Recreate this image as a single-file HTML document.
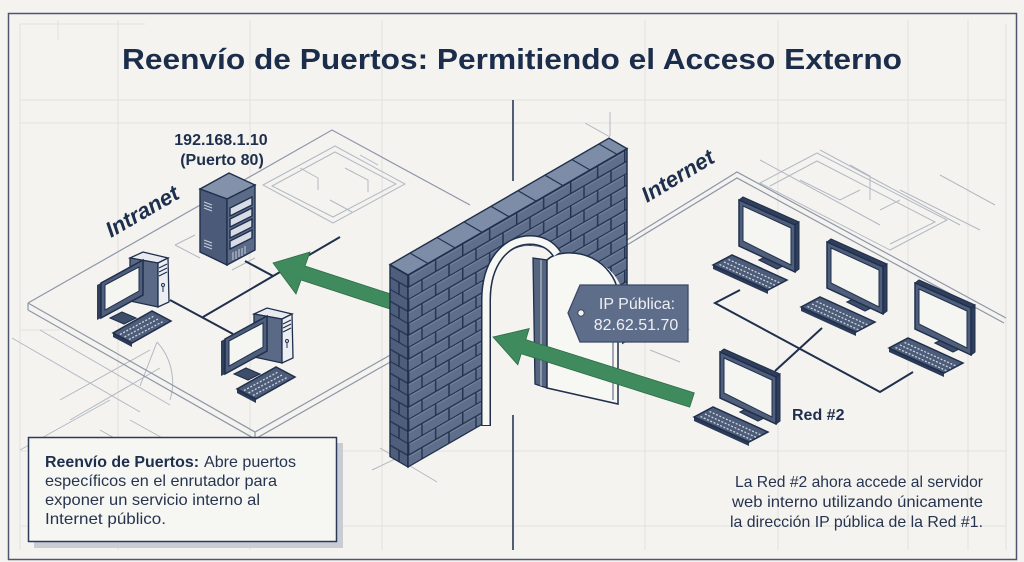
<!DOCTYPE html>
<html><head><meta charset="utf-8"><style>
html,body{margin:0;padding:0;background:#f4f3ef;}
svg{display:block;}
text{font-family:"Liberation Sans","DejaVu Sans",sans-serif;}
</style></head><body>
<svg width="1024" height="562" viewBox="0 0 1024 562" xmlns="http://www.w3.org/2000/svg">
<defs>
<pattern id="brick" width="54" height="24" patternUnits="userSpaceOnUse">
<rect width="54" height="24" fill="#5f6e8b"/>
<path d="M0 2.2H54 M0 14.2H54" stroke="#7f8da7" stroke-width="1.2" opacity="0.7"/>
<path d="M0 0.5H54 M0 12.5H54 M0.7 0V12.5 M27.7 0V12.5 M14 12.5V24 M41 12.5V24" stroke="#22324e" stroke-width="1.4"/>
</pattern>
<pattern id="brickEnd" width="18" height="24" patternUnits="userSpaceOnUse">
<rect width="18" height="24" fill="#4f5e7b"/>
<path d="M0 0.5H18 M0 12.5H18 M9 12.5V24" stroke="#22324e" stroke-width="1.4"/>
</pattern>
<g id="rpc">
<polygon points="20,60 32,54 50,63 38,69" fill="#3d4c68" stroke="#1f2f4c" stroke-width="1.2"/>
<polygon points="26,52 33,55 33,62 26,59" fill="#2f3e5a"/>
<polygon points="0,0 4,-3 60,22 56,25" fill="#2f3e5a" stroke="#1f2f4c" stroke-width="1"/>
<polygon points="56,25 60,22 60,69 56,72" fill="#2f3e5a" stroke="#1f2f4c" stroke-width="1"/>
<polygon points="0,0 56,25 56,72 0,46" fill="#4f5e7b" stroke="#1f2f4c" stroke-width="1.5"/>
<polygon points="4,6 52,28 52,65 4,41" fill="#f5f5f2" stroke="#1f2f4c" stroke-width="1"/>
<polygon points="-26,65 29,90 29,94 -26,69" fill="#2a3a58"/>
<polygon points="-26,65 -7,55 48,80 29,90" fill="#4d5c78" stroke="#1f2f4c" stroke-width="1.5"/>
<path d="M-19.5,64.5 L32,88 M-15,62 L36.5,85.5 M-10.5,59.5 L41,83" stroke="#cfd5df" stroke-width="1.3" stroke-dasharray="2 1.6"/>
</g>
<g id="lpc">
<polygon points="32,-25 45,-31 70,-25 60,-20" fill="#e9ebef" stroke="#1f2f4c" stroke-width="1.3"/>
<polygon points="32,-25 60,-20 60,24 32,18" fill="#5a6985" stroke="#1f2f4c" stroke-width="1.3"/>
<polygon points="60,-20 70,-25 71,19 60,24" fill="#eceef2" stroke="#1f2f4c" stroke-width="1.3"/>
<path d="M61,-15 L69,-19 M61,-11 L69,-15 M61,-7 L69,-11" stroke="#1f2f4c" stroke-width="1.2"/>
<circle cx="65" cy="2" r="1.5" fill="none" stroke="#1f2f4c"/>
<path d="M65,4 V9" stroke="#1f2f4c" stroke-width="1"/>
<polygon points="12,35 24,29 38,35 26,41" fill="#3d4c68" stroke="#1f2f4c" stroke-width="1.1"/>
<polygon points="-1,2 3,0 3,35 -1,37" fill="#2f3e5a"/>
<polygon points="3,0 45,-23 45,12 3,35" fill="#4f5e7b" stroke="#1f2f4c" stroke-width="1.5"/>
<polygon points="7,2 41,-16 41,8 7,27" fill="#f5f5f2" stroke="#1f2f4c" stroke-width="1"/>
<polygon points="15,50 34,60 34,64 15,54" fill="#2a3a58"/>
<polygon points="15,50 34,60 73,38 54,28" fill="#4d5c78" stroke="#1f2f4c" stroke-width="1.5"/>
<path d="M22,51.5 L56,33 M26.5,54 L61,35.5 M31,56.5 L66,38" stroke="#cfd5df" stroke-width="1.3" stroke-dasharray="2 1.6"/>
</g>
</defs>

<rect width="1024" height="562" fill="#f4f3ef"/>

<!-- grid -->
<g stroke="#e2e2dd" stroke-width="1" fill="none">
<path d="M20 24V550 M58 20V40 M118 20V550 M250 20V550 M382 20V550 M645 20V550 M778 20V550 M908 20V550 M968 20V550 M1006 24V550"/>
<path d="M20 24H145 M20 100H1006 M20 123H1006 M20 451H1006 M20 526H1006 M20 330H60"/>
</g>

<!-- frame -->
<rect x="8.5" y="13.5" width="1008" height="546" fill="none" stroke="#4b5770" stroke-width="1.5"/>

<!-- title -->
<text x="512" y="69" text-anchor="middle" font-size="29" font-weight="bold" fill="#1b2d4b" textLength="780" lengthAdjust="spacingAndGlyphs">Reenvío de Puertos: Permitiendo el Acceso Externo</text>

<!-- faint floor sketches -->
<g stroke="#b3b9c4" stroke-width="1" fill="none">
<path d="M12,338 L140,412 M40,330 L170,405 M60,400 L150,350 M70,420 L160,368 M140,386 L157,342 M157,342 A60,60 0 0 1 170,400"/>
<path d="M100,430 L180,475 M130,420 L220,470 M20,450 L110,400"/>
<polygon points="263,185 335,146 405,184 333,223"/>
<polygon points="272,186 335,152 396,184 333,217"/>
<path d="M300,168 L318,178 L318,190 M345,168 L368,180 L368,192 M330,200 L352,212 M360,155 L378,165"/>
<path d="M175,245 L200,258 M175,245 L195,235 M232,270 L255,258"/>
<path d="M760,183 L817,153 L947,220 L890,250 Z M770,186 L817,161 L935,222 L890,244 M800,180 L840,200 L860,190 M850,165 L870,176 L870,200 M880,210 L900,200"/>
<path d="M760,160 L880,225 M820,150 L960,225 M900,190 L980,230 M940,175 L995,205"/>
<path d="M380,448 L437,482 M372,470 L410,452 M585,123 L610,137 M610,112 V136 M640,300 L690,330 M650,350 L680,362"/>
</g>

<!-- left platform -->
<g stroke="#8e97a8" stroke-width="1.2" fill="none">
<path d="M28,303 L332,130 L470,205"/>
<path d="M28,303 L255,432 L392,354 M28,310 L255,439 L392,361 M28,303 V310 M255,432 V439"/>
</g>
<!-- right platform -->
<g stroke="#8e97a8" stroke-width="1.2" fill="none">
<path d="M627,240 L737,172 L1006,318 M627,245 L737,178 L1004,323 M600,256 L627,240"/>
</g>

<!-- divider -->
<path d="M513,100 V181 M513,415 V550" stroke="#2a3a58" stroke-width="1.6"/>

<!-- left network -->
<g stroke="#1f2f4c" stroke-width="2" fill="none">
<path d="M245,261 L273,276 M203,317 L340,237 M170,300 L233,334"/>
</g>
<!-- right network -->
<g stroke="#1f2f4c" stroke-width="2" fill="none">
<path d="M740,290 L715,303 L880,392 L913,372 M822,328 L775,371"/>
</g>

<!-- server -->
<g stroke="#1f2f4c" stroke-width="1.4">
<polygon points="200,189 229,173 255,185 227,199" fill="#8391aa"/>
<polygon points="200,189 227,199 227,265 200,252" fill="#4a5a78"/>
<polygon points="227,199 255,185 255,250 227,265" fill="#5b6a86"/>
<polygon points="230,208 252,197 252,205 230,216" fill="#d8dce4"/>
<polygon points="230,219 252,208 252,216 230,227" fill="#d8dce4"/>
<polygon points="230,230 252,219 252,227 230,238" fill="#d8dce4"/>
<polygon points="230,241 252,230 252,238 230,249" fill="#d8dce4"/>
</g>
<path d="M204,202 L212,205 M204,205 L212,208 M204,208 L212,211 M204,240 L212,243 M204,243 L212,246 M204,246 L212,249 M233,252 V260 M236,251 V259 M239,249 V257 M242,248 V256 M245,246 V254" stroke="#c9cfda" stroke-width="1"/>

<!-- left PCs -->
<use href="#lpc" transform="translate(98,283)"/>
<use href="#lpc" transform="translate(222,339)"/>

<!-- right PCs -->
<use href="#rpc" transform="translate(739,200)"/>
<use href="#rpc" transform="translate(827,242)"/>
<use href="#rpc" transform="translate(915,283)"/>
<use href="#rpc" transform="translate(720,352)"/>

<!-- arrow 1 (behind wall) -->
<polygon points="273,263 310,252 305,266 397,296 393,310 301,280 296,294" fill="#3f8b5d" stroke="#2d6b45" stroke-width="0.8"/>

<!-- wall -->
<g transform="matrix(1,0.577,0,1,390,264.6)">
<rect x="0" y="0" width="18" height="192" fill="url(#brickEnd)" stroke="#1f2f4c" stroke-width="1.4"/>
</g>
<g transform="matrix(1,-0.577,0,1,408,275)">
<rect x="0" y="0" width="219" height="192" fill="url(#brick)" stroke="#1f2f4c" stroke-width="1.5"/>
</g>
<polygon points="390,264.6 408,275 627,148.6 609,138.2" fill="#7e8da7" stroke="#1f2f4c" stroke-width="1.4"/>
<path d="M428,263.5 L410,253.1 M455,247.9 L437,237.5 M482,232.3 L464,221.9 M509,216.7 L491,206.3 M536,201.1 L518,190.7 M563,185.6 L545,175.2 M590,170 L572,159.6 M617,154.4 L599,144" stroke="#24344f" stroke-width="1.2"/>

<!-- opening -->
<path d="M491,421 L491,300 C491,266 507,246 528,246 C542,246 550,250 556,255 L600,263 C612,270 620,280 622,292 L622,345 Z" fill="#f4f3ef"/>
<path d="M491,423 L491,300 C491,266 507,246 528,246 C542,246 550,250 556,255" fill="none" stroke="#e2e2dd" stroke-width="0"/>
<!-- door strip + leaf -->
<polygon points="533,258 547,260 547,388 535,384" fill="#55647f" stroke="#1f2f4c" stroke-width="1.3"/>
<path d="M541,260 V386" stroke="#c9cfda" stroke-width="1"/>
<path d="M547,260 C555,252 575,250 592,258 C606,265 616,278 618,292 L618,404 L547,388 Z" fill="#f7f7f4" stroke="#1f2f4c" stroke-width="1.5"/>
<path d="M613,292 V400" stroke="#1f2f4c" stroke-width="0.8"/>
<!-- arch frame -->
<path d="M486,426 L486,300 C486,262 506,240 530,240 C545,240 553,248 557,254" fill="none" stroke="#1f2f4c" stroke-width="10"/>
<path d="M486,425 L486,300 C486,262 506,240 530,240 C545,240 553,248 557,254" fill="none" stroke="#f7f7f4" stroke-width="7"/>

<!-- arrow 2 -->
<polygon points="493,337 529.2,328.6 525.8,339.6 694.3,392.9 689.7,407.1 521.2,353.8 517.8,364.8" fill="#3f8b5d" stroke="#2d6b45" stroke-width="0.8"/>

<!-- IP tag -->
<polygon points="580,285 688,285 688,342 580,342 568,313" fill="#5e6d89" stroke="#3a4a66" stroke-width="1.3"/>
<circle cx="581" cy="313" r="3.2" fill="#f4f3ef" stroke="#3a4a66" stroke-width="1"/>
<text x="637" y="309" text-anchor="middle" font-size="16" fill="#eef0f4">IP Pública:</text>
<text x="636" y="330" text-anchor="middle" font-size="16" fill="#eef0f4">82.62.51.70</text>

<!-- labels -->
<text x="221" y="145" text-anchor="middle" font-size="16" font-weight="bold" fill="#1e2f4d">192.168.1.10</text>
<text x="222" y="165" text-anchor="middle" font-size="16" font-weight="bold" fill="#1e2f4d">(Puerto 80)</text>
<text x="111" y="238" font-size="22" font-weight="bold" font-style="italic" fill="#1e2f4d" transform="rotate(-30 111 238)">Intranet</text>
<text x="647" y="203" font-size="22" font-weight="bold" font-style="italic" fill="#1e2f4d" transform="rotate(-31 647 203)">Internet</text>
<text x="792" y="420" font-size="16" font-weight="bold" fill="#1e2f4d">Red #2</text>

<!-- left info box -->
<rect x="34" y="443" width="309" height="105" fill="#c9ccd3"/>
<rect x="28.5" y="437.5" width="308" height="104" fill="#f6f6f3" stroke="#2a3a58" stroke-width="1.5"/>
<text x="45" y="467" font-size="16" font-weight="bold" fill="#1e2f4d" textLength="154" lengthAdjust="spacingAndGlyphs">Reenvío de Puertos:</text>
<text x="204" y="467" font-size="16" fill="#26344f" textLength="92" lengthAdjust="spacingAndGlyphs">Abre puertos</text>
<text x="45" y="486" font-size="16" fill="#26344f" textLength="232" lengthAdjust="spacingAndGlyphs">específicos en el enrutador para</text>
<text x="45" y="505" font-size="16" fill="#26344f" textLength="215" lengthAdjust="spacingAndGlyphs">exponer un servicio interno al</text>
<text x="45" y="524" font-size="16" fill="#26344f" textLength="121" lengthAdjust="spacingAndGlyphs">Internet público.</text>

<!-- right text -->
<text x="983" y="487" text-anchor="end" font-size="16" fill="#26344f" textLength="248" lengthAdjust="spacingAndGlyphs">La Red #2 ahora accede al servidor</text>
<text x="983" y="507" text-anchor="end" font-size="16" fill="#26344f" textLength="251" lengthAdjust="spacingAndGlyphs">web interno utilizando únicamente</text>
<text x="983" y="527" text-anchor="end" font-size="16" fill="#26344f" textLength="253" lengthAdjust="spacingAndGlyphs">la dirección IP pública de la Red #1.</text>
</svg>
</body></html>
